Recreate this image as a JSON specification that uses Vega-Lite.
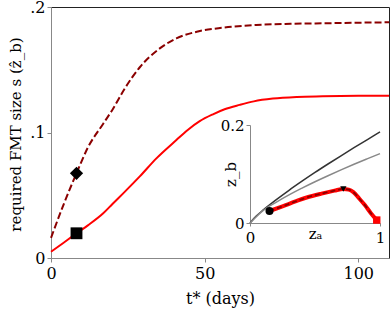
{
  "$schema": "https://vega.github.io/schema/vega-lite/v6.json",
  "width": 338,
  "height": 251,
  "autosize": "none",
  "padding": {"left": 51, "top": 7, "right": 1, "bottom": 54},
  "config": {
    "view": {"stroke": "#222", "strokeWidth": 1},
    "font": "DejaVu Serif",
    "axis": {
      "grid": false,
      "domainColor": "#888",
      "tickColor": "#888",
      "labelFont": "DejaVu Serif",
      "titleFont": "DejaVu Serif",
      "labelColor": "#000",
      "titleColor": "#000",
      "titleFontWeight": "normal"
    }
  },
  "datasets": {
    "dashed": [
      {"t": 0, "s": 0.016}, {"t": 4, "s": 0.042}, {"t": 8.3, "s": 0.0675},
      {"t": 12, "s": 0.088}, {"t": 17, "s": 0.107}, {"t": 20.2, "s": 0.119},
      {"t": 24, "s": 0.135}, {"t": 28.9, "s": 0.152}, {"t": 35.4, "s": 0.167},
      {"t": 40.8, "s": 0.175}, {"t": 47.8, "s": 0.1805}, {"t": 55.9, "s": 0.1835},
      {"t": 66.8, "s": 0.1857}, {"t": 78, "s": 0.1866}, {"t": 88.4, "s": 0.187},
      {"t": 100, "s": 0.1875}, {"t": 110, "s": 0.1878}
    ],
    "solid": [
      {"t": 0, "s": 0.005}, {"t": 4, "s": 0.012}, {"t": 8.3, "s": 0.0197},
      {"t": 12, "s": 0.026}, {"t": 17, "s": 0.0356}, {"t": 20, "s": 0.043},
      {"t": 23.5, "s": 0.0515}, {"t": 28.9, "s": 0.065}, {"t": 34.3, "s": 0.0794},
      {"t": 40.8, "s": 0.094}, {"t": 44.5, "s": 0.102}, {"t": 48.4, "s": 0.109},
      {"t": 52.7, "s": 0.1145}, {"t": 56.5, "s": 0.1185}, {"t": 61.4, "s": 0.122},
      {"t": 66, "s": 0.1248}, {"t": 72.2, "s": 0.127}, {"t": 80, "s": 0.1283},
      {"t": 88.4, "s": 0.1288}, {"t": 100, "s": 0.1292}, {"t": 110, "s": 0.1293}
    ],
    "mainMarks": [
      {"t": 8.3, "s": 0.0675, "marker": "diamond"},
      {"t": 8.3, "s": 0.0197, "marker": "square"}
    ],
    "darkGray": [
      {"za": 0, "zb": 0}, {"za": 0.05, "zb": 0.0146}, {"za": 0.1, "zb": 0.0263},
      {"za": 0.2, "zb": 0.0472}, {"za": 0.3, "zb": 0.0668}, {"za": 0.4, "zb": 0.0853},
      {"za": 0.5, "zb": 0.1032}, {"za": 0.6, "zb": 0.1204}, {"za": 0.7, "zb": 0.1372},
      {"za": 0.8, "zb": 0.1536}, {"za": 0.9, "zb": 0.1698}, {"za": 1, "zb": 0.186}
    ],
    "lightGray": [
      {"za": 0, "zb": 0}, {"za": 0.05, "zb": 0.0134}, {"za": 0.1, "zb": 0.0252},
      {"za": 0.2, "zb": 0.0423}, {"za": 0.3, "zb": 0.0575}, {"za": 0.4, "zb": 0.0712},
      {"za": 0.5, "zb": 0.0842}, {"za": 0.6, "zb": 0.0965}, {"za": 0.7, "zb": 0.1083},
      {"za": 0.8, "zb": 0.1198}, {"za": 0.9, "zb": 0.1308}, {"za": 1, "zb": 0.1416}
    ],
    "redPath": [
      {"za": 0.15, "zb": 0.0245}, {"za": 0.25, "zb": 0.034}, {"za": 0.35, "zb": 0.044},
      {"za": 0.436, "zb": 0.052}, {"za": 0.55, "zb": 0.06}, {"za": 0.65, "zb": 0.066},
      {"za": 0.718, "zb": 0.0695}, {"za": 0.76, "zb": 0.068}, {"za": 0.795, "zb": 0.063},
      {"za": 0.84, "zb": 0.05}, {"za": 0.885, "zb": 0.036}, {"za": 0.93, "zb": 0.02},
      {"za": 0.975, "zb": 0.006}
    ],
    "insetMarks": [
      {"za": 0.15, "zb": 0.0245, "marker": "circle"},
      {"za": 0.718, "zb": 0.0695, "marker": "triangle"},
      {"za": 0.975, "zb": 0.006, "marker": "end"}
    ]
  },
  "layer": [
    {
      "encoding": {
        "x": {
          "field": "t", "type": "quantitative",
          "scale": {"domain": [0, 110], "nice": false, "zero": false},
          "axis": {
            "values": [0, 50, 100], "title": "t* (days)",
            "labelFontSize": 16, "titleFontSize": 16, "tickSize": 4, "labelPadding": 3,
            "labelFlush": false, "titleY": 45, "titleBaseline": "alphabetic"
          }
        },
        "y": {
          "field": "s", "type": "quantitative",
          "scale": {"domain": [0, 0.2], "nice": false},
          "axis": {
            "values": [0, 0.1, 0.2],
            "labelExpr": "datum.value == 0 ? '0' : replace(format(datum.value, '.1f'), '0.', '.')",
            "title": "required FMT size s (ẑ_b)",
            "labelFontSize": 16, "titleFontSize": 15, "tickSize": 4, "labelPadding": 2,
            "titleX": -31, "titleY": 127, "titleAngle": -90, "titleBaseline": "alphabetic"
          }
        }
      },
      "layer": [
        {
          "data": {"name": "dashed"},
          "mark": {"type": "line", "color": "#8b0000", "strokeWidth": 2, "strokeDash": [7, 3], "interpolate": "monotone"}
        },
        {
          "data": {"name": "solid"},
          "mark": {"type": "line", "color": "#ff0000", "strokeWidth": 2, "interpolate": "monotone"}
        },
        {
          "data": {"name": "mainMarks"},
          "transform": [{"filter": "datum.marker == 'diamond'"}],
          "mark": {"type": "point", "shape": "diamond", "filled": true, "color": "#000", "size": 175, "opacity": 1}
        },
        {
          "data": {"name": "mainMarks"},
          "transform": [{"filter": "datum.marker == 'square'"}],
          "mark": {"type": "point", "shape": "square", "filled": true, "color": "#000", "size": 140, "opacity": 1}
        }
      ]
    },
    {
      "encoding": {
        "x": {
          "field": "za", "type": "quantitative",
          "scale": {"domain": [0, 1], "range": [199, 329], "nice": false},
          "axis": {
            "orient": "bottom", "offset": -35, "values": [0, 1], "format": "d",
            "title": "zₐ", "labelFontSize": 15, "titleFontSize": 15, "tickSize": 3,
            "labelPadding": 4, "labelFlush": false, "titleY": 15, "titleBaseline": "alphabetic"
          }
        },
        "y": {
          "field": "zb", "type": "quantitative",
          "scale": {"domain": [0, 0.2], "range": [216, 118], "nice": false},
          "axis": {
            "orient": "left", "offset": -199, "values": [0, 0.2],
            "labelExpr": "datum.value == 0 ? '0' : format(datum.value, '.1f')",
            "title": "z_b", "labelFontSize": 15, "titleFontSize": 15, "tickSize": 4,
            "labelPadding": 2, "titleX": -15, "titleY": 167, "titleAngle": -90,
            "titleBaseline": "alphabetic"
          }
        }
      },
      "layer": [
        {
          "data": {"values": [{}]},
          "mark": {"type": "rect", "fill": "transparent", "stroke": "#888", "strokeWidth": 1},
          "encoding": {
            "x": {"datum": 0, "type": "quantitative"},
            "x2": {"datum": 1},
            "y": {"datum": 0, "type": "quantitative"},
            "y2": {"datum": 0.2}
          }
        },
        {
          "data": {"name": "darkGray"},
          "mark": {"type": "line", "color": "#333", "strokeWidth": 1.5, "interpolate": "monotone"}
        },
        {
          "data": {"name": "lightGray"},
          "mark": {"type": "line", "color": "#888", "strokeWidth": 1.5, "interpolate": "monotone"}
        },
        {
          "data": {"name": "redPath"},
          "mark": {"type": "line", "color": "#ff0000", "strokeWidth": 4, "interpolate": "monotone"}
        },
        {
          "data": {"name": "redPath"},
          "mark": {"type": "line", "color": "#8b0000", "strokeWidth": 1.8, "strokeDash": [5, 3], "interpolate": "monotone"}
        },
        {
          "data": {"name": "insetMarks"},
          "transform": [{"filter": "datum.marker == 'circle'"}],
          "mark": {"type": "point", "shape": "circle", "filled": true, "color": "#000", "size": 64, "opacity": 1}
        },
        {
          "data": {"name": "insetMarks"},
          "transform": [{"filter": "datum.marker == 'triangle'"}],
          "mark": {"type": "point", "shape": "triangle-down", "filled": true, "color": "#000", "size": 40, "opacity": 1}
        },
        {
          "data": {"name": "insetMarks"},
          "transform": [{"filter": "datum.marker == 'end'"}],
          "mark": {"type": "point", "shape": "square", "filled": true, "color": "#ff0000", "size": 55, "opacity": 1}
        }
      ]
    }
  ],
  "resolve": {
    "scale": {"x": "independent", "y": "independent"},
    "axis": {"x": "independent", "y": "independent"}
  }
}
